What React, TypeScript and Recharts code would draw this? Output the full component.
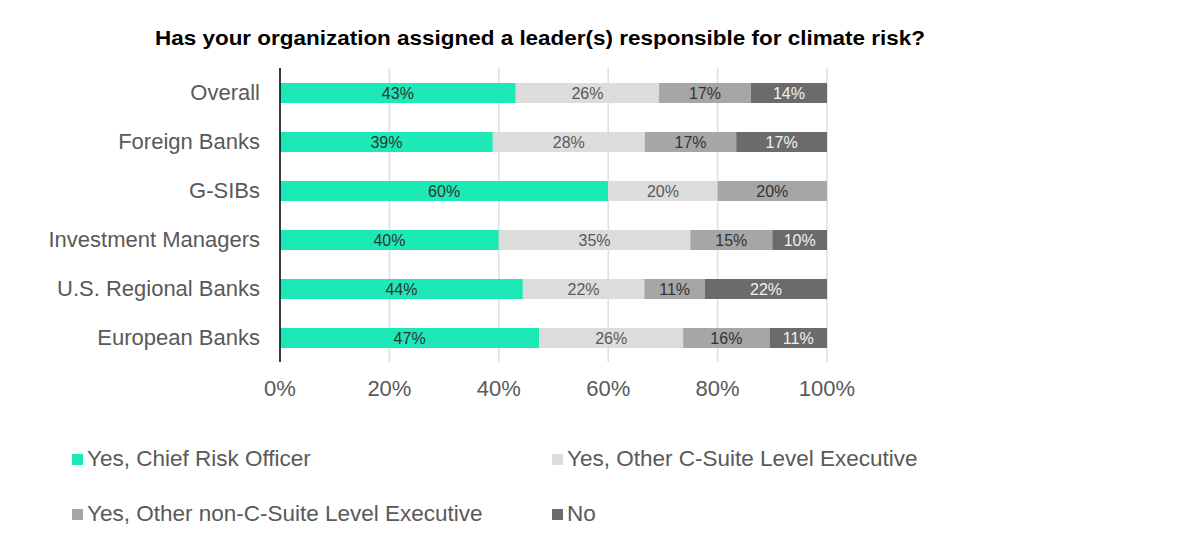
import { BarChart, Bar, XAxis, YAxis, CartesianGrid, LabelList } from 'recharts';

// Survey: leader responsible for climate risk, by respondent group (share in %)
const categories = [
  'Overall',
  'Foreign Banks',
  'G-SIBs',
  'Investment Managers',
  'U.S. Regional Banks',
  'European Banks',
];
const chiefRiskOfficer = [43.1, 38.9, 60, 40, 44.4, 47.4];
const otherCSuite = [26.2, 27.8, 20, 35, 22.2, 26.3];
const nonCSuite = [16.8, 16.7, 20, 15, 11.1, 15.8];
const noLeader = [13.9, 16.6, 0, 10, 22.3, 10.5];
const xTicks = [0, 20, 40, 60, 80, 100];

const TITLE = 'Has your organization assigned a leader(s) responsible for climate risk?';
const FONT = '"Liberation Sans", Arial, sans-serif';
const TEXT_GREY = '#595959';

const series = [
  { key: 'cro', name: 'Yes, Chief Risk Officer', color: '#1de9b6', label: '#333333' },
  { key: 'csuite', name: 'Yes, Other C-Suite Level Executive', color: '#dcdcdc', label: '#595959' },
  { key: 'noncsuite', name: 'Yes, Other non-C-Suite Level Executive', color: '#a6a6a6', label: '#333333' },
  { key: 'no', name: 'No', color: '#6b6b6b', label: '#f2f2f2' },
];

const data = categories.map((name, i) => ({
  name,
  cro: chiefRiskOfficer[i],
  csuite: otherCSuite[i],
  noncsuite: nonCSuite[i],
  no: noLeader[i],
}));

const pct = (v: any) => (Number(v) > 0 ? `${Math.round(Number(v))}%` : '');

// legend placement: two columns, two rows
const legendPos = [
  { left: 72, top: 459 },
  { left: 552, top: 459 },
  { left: 72, top: 514 },
  { left: 552, top: 514 },
];

export default function App() {
  return (
    <div
      style={{
        position: 'absolute',
        left: 0,
        top: 0,
        width: 1200,
        height: 547,
        background: '#fff',
        fontFamily: FONT,
      }}
    >
      <svg width={1200} height={60} style={{ position: 'absolute', left: 0, top: 0 }}>
        <text
          x={155}
          y={45}
          textLength={770}
          lengthAdjust="spacingAndGlyphs"
          fontFamily={FONT}
          fontWeight="bold"
          fontSize={21}
          fill="#000"
        >
          {TITLE}
        </text>
      </svg>

      <div style={{ position: 'absolute', left: 0, top: 0 }}>
        <BarChart
          width={1200}
          height={547}
          data={data}
          layout="vertical"
          margin={{ top: 68, right: 373, bottom: 155, left: 0 }}
          barCategoryGap={0}
        >
          <CartesianGrid horizontal={false} stroke="#dedede" strokeWidth={1.5} />
          <XAxis
            type="number"
            domain={[0, 100]}
            ticks={xTicks}
            tickFormatter={(v) => `${v}%`}
            axisLine={false}
            tickLine={false}
            tickSize={0}
            tickMargin={18}
            height={30}
            tick={{ fill: TEXT_GREY, fontSize: 22, fontFamily: FONT }}
            interval={0}
          />
          <YAxis
            type="category"
            dataKey="name"
            width={280}
            axisLine={{ stroke: '#000', strokeWidth: 1.5 }}
            tickLine={false}
            tickSize={0}
            tickMargin={20}
            tick={{ fill: TEXT_GREY, fontSize: 22, fontFamily: FONT }}
            interval={0}
          />
          {series.map((s) => (
            <Bar
              key={s.key}
              dataKey={s.key}
              name={s.name}
              stackId="a"
              fill={s.color}
              barSize={20}
              isAnimationActive={false}
            >
              <LabelList
                dataKey={s.key}
                position="center"
                formatter={pct}
                fill={s.label}
                fontSize={16}
                fontFamily={FONT}
              />
            </Bar>
          ))}
        </BarChart>
      </div>

      {series.map((s, i) => (
        <div
          key={s.key}
          style={{
            position: 'absolute',
            left: legendPos[i].left,
            top: legendPos[i].top - 13,
            height: 26,
            display: 'flex',
            alignItems: 'center',
            color: TEXT_GREY,
            fontSize: 22.5,
            whiteSpace: 'nowrap',
          }}
        >
          <span
            style={{
              display: 'inline-block',
              width: 11,
              height: 11,
              background: s.color,
              marginRight: 4,
            }}
          />
          {s.name}
        </div>
      ))}
    </div>
  );
}
